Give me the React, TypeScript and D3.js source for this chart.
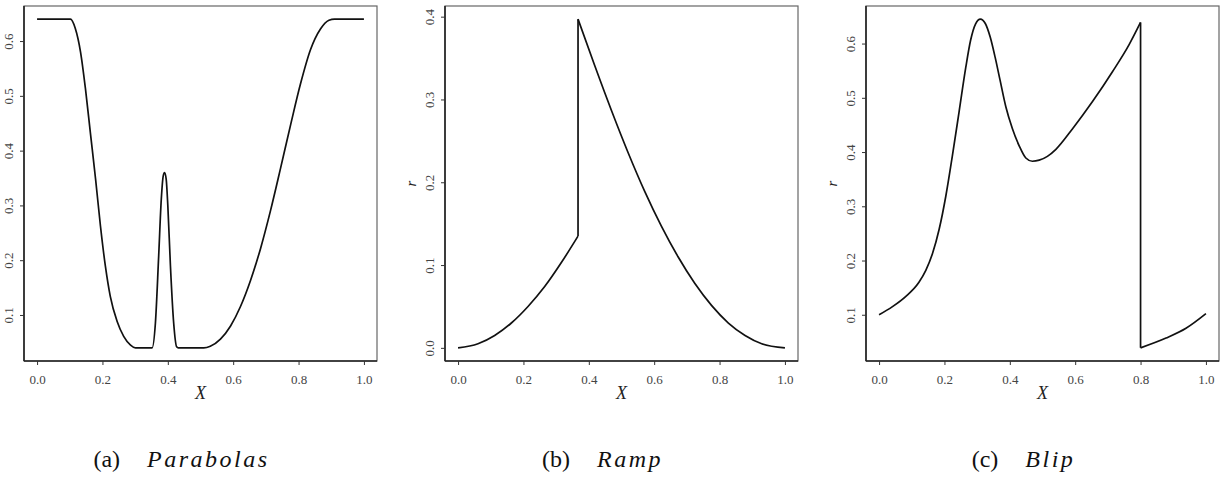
import * as d3 from "d3";
import { useRef, useEffect } from "react";

const width = 1222;
const height = 486;
const boxTop = 6;
const boxBottom = 361;
const boxWidth = 353;
const serif = '"Liberation Serif", "Times New Roman"';

const xTicks = [0, 0.2, 0.4, 0.6, 0.8, 1.0];

// (a) Parabolas
const parabolasX = [
  0, 0.102, 0.117, 0.133, 0.148, 0.163, 0.179, 0.194, 0.209, 0.224, 0.245, 0.265, 0.286, 0.301,
  0.352, 0.362, 0.372, 0.38, 0.386, 0.39, 0.395, 0.4, 0.408, 0.418, 0.427, 0.432,
  0.51, 0.53, 0.561, 0.592, 0.622, 0.653, 0.684, 0.714, 0.745, 0.776, 0.806, 0.837, 0.867, 0.893, 0.91, 1.0,
];
const parabolasY = [
  0.64, 0.64, 0.623, 0.58, 0.513, 0.433, 0.348, 0.262, 0.189, 0.134, 0.088, 0.061, 0.045, 0.04,
  0.04, 0.085, 0.207, 0.311, 0.354, 0.36, 0.348, 0.3, 0.19, 0.085, 0.042, 0.04,
  0.04, 0.043, 0.056, 0.08, 0.115, 0.163, 0.222, 0.29, 0.368, 0.448, 0.522, 0.585, 0.622, 0.638, 0.64, 0.64,
];
const parabolasTicks = [0.1, 0.2, 0.3, 0.4, 0.5, 0.6];

// (b) Ramp
const rampX = [
  0, 0.061, 0.112, 0.163, 0.214, 0.265, 0.316, 0.367,
  0.367, 0.418, 0.469, 0.52, 0.571, 0.622, 0.673, 0.724, 0.776, 0.827, 0.878, 0.929, 1.0,
];
const rampY = [
  0, 0.005, 0.015, 0.03, 0.05, 0.074, 0.103, 0.135,
  0.397, 0.341, 0.287, 0.236, 0.189, 0.147, 0.11, 0.078, 0.051, 0.03, 0.015, 0.005, 0,
];
const rampTicks = [0, 0.1, 0.2, 0.3, 0.4];

// (c) Blip
const blipX = [
  0, 0.041, 0.082, 0.122, 0.143, 0.163, 0.184, 0.204, 0.224, 0.245, 0.265, 0.28, 0.295, 0.31,
  0.325, 0.34, 0.355, 0.37, 0.388, 0.408, 0.429, 0.449, 0.469, 0.49, 0.515, 0.541, 0.592, 0.653,
  0.714, 0.765, 0.8,
  0.8, 0.878, 0.939, 1.0,
];
const blipY = [
  0.1, 0.115, 0.134, 0.16, 0.182, 0.212, 0.258, 0.318, 0.392, 0.475, 0.555, 0.606, 0.636, 0.645,
  0.637, 0.612, 0.575, 0.533, 0.483, 0.443, 0.411, 0.389, 0.383, 0.385, 0.392, 0.405, 0.443, 0.493,
  0.548, 0.598, 0.639,
  0.039, 0.057, 0.075, 0.102,
];
const blipTicks = [0.1, 0.2, 0.3, 0.4, 0.5, 0.6];

type PanelProps = {
  left: number;
  xs: number[];
  ys: number[];
  yTicks: number[];
  yLabel?: string;
  letter: string;
  name: string;
};

const Panel = ({ left, xs, ys, yTicks, yLabel, letter, name }: PanelProps) => {
  const gx = useRef<SVGGElement>(null);
  const gy = useRef<SVGGElement>(null);

  const x = d3.scaleLinear().domain([-0.04, 1.04]).range([left, left + boxWidth]);

  // R-style 4% padding on the data range
  const [lo, hi] = d3.extent(ys) as [number, number];
  const pad = (hi - lo) * 0.04;
  const y = d3.scaleLinear().domain([lo - pad, hi + pad]).range([boxBottom, boxTop]);

  useEffect(() => {
    const fmt = d3.format(".1f");
    const gxSel = d3.select(gx.current!);
    gxSel.call(d3.axisBottom(x).tickValues(xTicks).tickSize(4).tickFormat((d) => fmt(d as number)));
    gxSel.attr("font-family", null).attr("font-size", null);
    gxSel.select(".domain").remove();
    gxSel.selectAll(".tick line").attr("stroke", "#333");
    gxSel
      .selectAll(".tick text")
      .attr("y", 22.7)
      .attr("dy", 0)
      .attr("fill", "#444")
      .style("font-family", serif)
      .style("font-size", "13px");

    const gySel = d3.select(gy.current!);
    gySel.call(d3.axisLeft(y).tickValues(yTicks).tickSize(4).tickFormat((d) => fmt(d as number)));
    gySel.attr("font-family", null).attr("font-size", null);
    gySel.select(".domain").remove();
    gySel.selectAll(".tick line").attr("stroke", "#333");
    gySel
      .selectAll(".tick text")
      .attr("x", 0)
      .attr("y", -10.7)
      .attr("dy", 0)
      .attr("transform", "rotate(-90)")
      .attr("text-anchor", "middle")
      .attr("fill", "#444")
      .style("font-family", serif)
      .style("font-size", "13px");

    return () => {
      gxSel.selectAll("*").remove();
      gySel.selectAll("*").remove();
    };
  }, [x, y, yTicks]);

  // split at jumps (same x twice): smooth pieces joined by straight verticals
  const pts: [number, number][] = xs.map((d, i) => [d, ys[i]]);
  const pieces: [number, number][][] = [[]];
  pts.forEach((p, i) => {
    if (i > 0 && p[0] === pts[i - 1][0]) pieces.push([]);
    pieces[pieces.length - 1].push(p);
  });
  const smooth = d3
    .line<[number, number]>()
    .x((d) => x(d[0]))
    .y((d) => y(d[1]))
    .curve(d3.curveMonotoneX);
  const straight = d3
    .line<[number, number]>()
    .x((d) => x(d[0]))
    .y((d) => y(d[1]));

  const xMid = x(0.5);
  const yMid = (boxTop + boxBottom) / 2;

  return (
    <g>
      <rect
        x={left}
        y={boxTop}
        width={boxWidth}
        height={boxBottom - boxTop}
        fill="none"
        stroke="#666"
        strokeWidth={1.2}
      />
      <line x1={left} x2={left} y1={boxTop} y2={boxBottom} stroke="#222" strokeWidth={1.6} />
      <line x1={left} x2={left + boxWidth} y1={boxBottom} y2={boxBottom} stroke="#222" strokeWidth={1.6} />

      {pieces.map((p, i) => (
        <path key={i} d={smooth(p) as string} fill="none" stroke="#111" strokeWidth={1.7} />
      ))}
      {pieces.slice(1).map((p, i) => (
        <path
          key={"j" + i}
          d={straight([pieces[i][pieces[i].length - 1], p[0]]) as string}
          fill="none"
          stroke="#111"
          strokeWidth={1.7}
        />
      ))}

      <g ref={gx} transform={`translate(0, ${boxBottom})`} />
      <g ref={gy} transform={`translate(${left}, 0)`} />

      <text
        x={xMid}
        y={399}
        textAnchor="middle"
        style={{ fontFamily: serif, fontStyle: "italic", fontSize: 18 }}
        fill="#222"
      >
        X
      </text>
      {yLabel && (
        <text
          transform={`translate(${left - 28.6}, ${yMid}) rotate(-90)`}
          textAnchor="middle"
          style={{ fontFamily: serif, fontStyle: "italic", fontSize: 15 }}
          fill="#222"
        >
          {yLabel}
        </text>
      )}

      <text
        x={left + boxWidth / 2 - 19}
        y={467}
        textAnchor="middle"
        style={{ fontFamily: serif, fontSize: 24 }}
        fill="#111"
      >
        <tspan>{`(${letter})`}</tspan>
        <tspan dx={27} style={{ fontStyle: "italic", letterSpacing: "2.5px" }}>
          {name}
        </tspan>
      </text>
    </g>
  );
};

const App = () => {
  return (
    <svg
      width={width}
      height={height}
      viewBox={`0 0 ${width} ${height}`}
      style={{ position: "absolute", left: 0, top: 0, background: "#fff" }}
    >
      <Panel left={24} xs={parabolasX} ys={parabolasY} yTicks={parabolasTicks} letter="a" name="Parabolas" />
      <Panel left={445} xs={rampX} ys={rampY} yTicks={rampTicks} yLabel="r" letter="b" name="Ramp" />
      <Panel left={866} xs={blipX} ys={blipY} yTicks={blipTicks} yLabel="r" letter="c" name="Blip" />
    </svg>
  );
};

export default App;
